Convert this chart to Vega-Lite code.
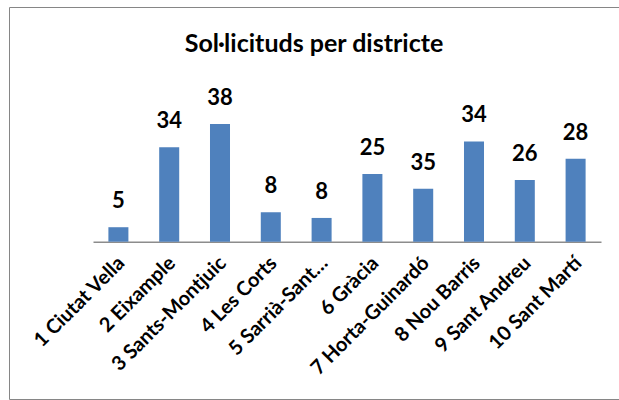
{
  "$schema": "https://vega.github.io/schema/vega-lite/v6.json",
  "autosize": {"type": "none"},
  "padding": {"left": 9, "top": 7, "right": 0, "bottom": 1},
  "width": 610,
  "height": 392,
  "background": "white",
  "title": {
    "text": "Sol·licituds per districte",
    "font": "Lato",
    "fontSize": 25,
    "fontWeight": "bold",
    "color": "#000000",
    "anchor": "middle",
    "baseline": "alphabetic",
    "offset": -70
  },
  "data": {
    "values": [
      {"districte": "1 Ciutat Vella", "valor": 5.0, "etiqueta": "5"},
      {"districte": "2 Eixample", "valor": 32.6, "etiqueta": "34"},
      {"districte": "3 Sants-Montjuic", "valor": 40.6, "etiqueta": "38"},
      {"districte": "4 Les Corts", "valor": 10.2, "etiqueta": "8"},
      {"districte": "5 Sarrià-Sant…", "valor": 8.2, "etiqueta": "8"},
      {"districte": "6 Gràcia", "valor": 23.4, "etiqueta": "25"},
      {"districte": "7 Horta-Guinardó", "valor": 18.3, "etiqueta": "35"},
      {"districte": "8 Nou Barris", "valor": 34.6, "etiqueta": "34"},
      {"districte": "9 Sant Andreu", "valor": 21.3, "etiqueta": "26"},
      {"districte": "10 Sant Martí", "valor": 28.6, "etiqueta": "28"}
    ]
  },
  "encoding": {
    "x": {
      "field": "districte",
      "type": "nominal",
      "sort": null,
      "scale": {"range": [84, 592], "paddingInner": 0.606, "paddingOuter": 0.303},
      "axis": {
        "title": null,
        "offset": -157.3,
        "domainColor": "#8c8c8c",
        "domainWidth": 1.5,
        "ticks": false,
        "labelAngle": -45,
        "labelAlign": "right",
        "labelBaseline": "middle",
        "labelFont": "Lato",
        "labelFontSize": 20,
        "labelFontWeight": "bold",
        "labelColor": "#000000",
        "labelPadding": 18,
        "labelOffset": 3,
        "labelLimit": 0
      }
    },
    "y": {
      "field": "valor",
      "type": "quantitative",
      "scale": {"domain": [0, 81], "range": [234.7, 0], "nice": false, "zero": true},
      "axis": null
    }
  },
  "layer": [
    {"mark": {"type": "bar", "color": "#4F81BD"}},
    {
      "mark": {
        "type": "text",
        "font": "Lato",
        "fontSize": 22,
        "fontWeight": "bold",
        "color": "#000000",
        "baseline": "alphabetic",
        "dy": -19
      },
      "encoding": {"text": {"field": "etiqueta"}}
    }
  ],
  "config": {
    "view": {"stroke": "#868686", "strokeWidth": 1},
    "axis": {"grid": false}
  }
}
